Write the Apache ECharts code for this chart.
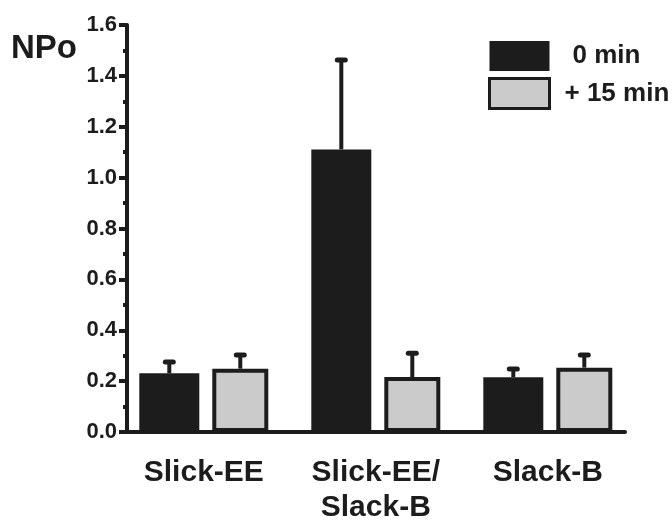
<!DOCTYPE html>
<html>
<head>
<meta charset="utf-8">
<script src="https://cdn.jsdelivr.net/npm/echarts@6/dist/echarts.min.js"></script>
<style>html,body{margin:0;padding:0;background:#fff;}#chart{width:672px;height:521px;}</style>
</head>
<body>
<div id="chart"></div>
<script>
// ---- data ----
const categories = ['Slick-EE', 'Slick-EE/\nSlack-B', 'Slack-B'];
const categoryPositions = [1, 2, 3];
const seriesNames = ['0 min', '+ 15 min'];
const values0 = [0.231, 1.111, 0.215];
const values15 = [0.249, 0.216, 0.253];
const err0 = [0.044, 0.351, 0.033];
const err15 = [0.054, 0.094, 0.050];
const yTicks = [0, 0.2, 0.4, 0.6, 0.8, 1.0, 1.2, 1.4, 1.6];

// ---- style ----
const DARK = '#1c1c1c';
const GRAY = '#cbcbcb';
const FONT = 'Liberation Sans, Arial, sans-serif';
const BAR0_W = 60, BAR15_W = 56, GAP_PX = 13;
const total = BAR0_W + GAP_PX + BAR15_W;
const off0 = -total / 2 + BAR0_W / 2;
const off15 = total / 2 - BAR15_W / 2;

const chart = echarts.init(document.getElementById('chart'), null, {renderer: 'canvas'});

function errSeries(name, vals, errs, offset) {
  return {
    type: 'custom',
    name: name + ' err',
    z: 5,
    silent: true,
    data: categoryPositions.map((p, i) => [p, vals[i], vals[i] + errs[i]]),
    renderItem: function (params, api) {
      const base = api.coord([api.value(0), api.value(1)]);
      const top = api.coord([api.value(0), api.value(2)]);
      const x = base[0] + offset;
      return {
        type: 'group',
        children: [
          {type: 'line', shape: {x1: x, y1: base[1], x2: x, y2: top[1]},
           style: {stroke: DARK, lineWidth: 4}},
          {type: 'line', shape: {x1: x - 4, y1: top[1], x2: x + 4, y2: top[1]},
           style: {stroke: DARK, lineWidth: 5, lineCap: 'round'}}
        ]
      };
    }
  };
}

const option = {
  animation: false,
  backgroundColor: '#ffffff',
  title: {
    text: 'NPo', left: 11, top: 32, padding: 0,
    textStyle: {fontFamily: FONT, fontWeight: 'bold', fontSize: 33, color: DARK}
  },
  legend: {
    orient: 'vertical', left: 488, top: 41, padding: 0,
    itemWidth: 60, itemHeight: 30, itemGap: 6,
    icon: 'rect',
    textStyle: {fontFamily: FONT, fontWeight: 'bold', fontSize: 26, color: DARK},
    data: [
      {name: seriesNames[0], textStyle: {padding: [0, 0, 0, 18]}},
      {name: seriesNames[1], textStyle: {padding: [0, 0, 0, 10]}, itemStyle: {borderWidth: 3}}
    ]
  },
  grid: {left: 127, right: 47, top: 25, bottom: 89, containLabel: false, outerBoundsMode: 'none'},
  xAxis: {
    type: 'value',
    min: 0.5535, max: 3.4488,
    axisLine: {show: true, onZero: false, lineStyle: {color: DARK, width: 4, cap: 'round'}},
    axisTick: {show: false},
    splitLine: {show: false},
    axisLabel: {
      customValues: categoryPositions,
      formatter: v => categories[Math.round(v) - 1] || '',
      fontFamily: FONT, fontWeight: 'bold', fontSize: 30, lineHeight: 35, color: DARK,
      margin: 23, showMinLabel: true, showMaxLabel: true
    }
  },
  yAxis: {
    type: 'value',
    min: 0, max: 1.6, interval: 0.2,
    axisLine: {show: true, onZero: false, lineStyle: {color: DARK, width: 4, cap: 'round'}},
    axisTick: {show: true, inside: false, length: 8, lineStyle: {color: DARK, width: 4}},
    minorTick: {show: true, splitNumber: 2, length: 4, lineStyle: {color: DARK, width: 4}},
    splitLine: {show: false},
    minorSplitLine: {show: false},
    axisLabel: {
      customValues: yTicks,
      formatter: v => v.toFixed(1),
      fontFamily: FONT, fontWeight: 'bold', fontSize: 22, color: DARK, margin: 10
    }
  },
  series: [
    {
      type: 'bar', name: seriesNames[0],
      data: categoryPositions.map((p, i) => [p, values0[i]]),
      barWidth: BAR0_W, barGap: (GAP_PX / BAR0_W * 100) + '%',
      itemStyle: {color: DARK},
      z: 2
    },
    {
      type: 'bar', name: seriesNames[1],
      data: categoryPositions.map((p, i) => [p, values15[i]]),
      barWidth: BAR15_W,
      itemStyle: {color: GRAY, borderColor: DARK, borderWidth: 4},
      z: 2
    },
    errSeries(seriesNames[0], values0, err0, off0),
    errSeries(seriesNames[1], values15, err15, off15)
  ]
};
chart.setOption(option);
</script>
</body>
</html>
